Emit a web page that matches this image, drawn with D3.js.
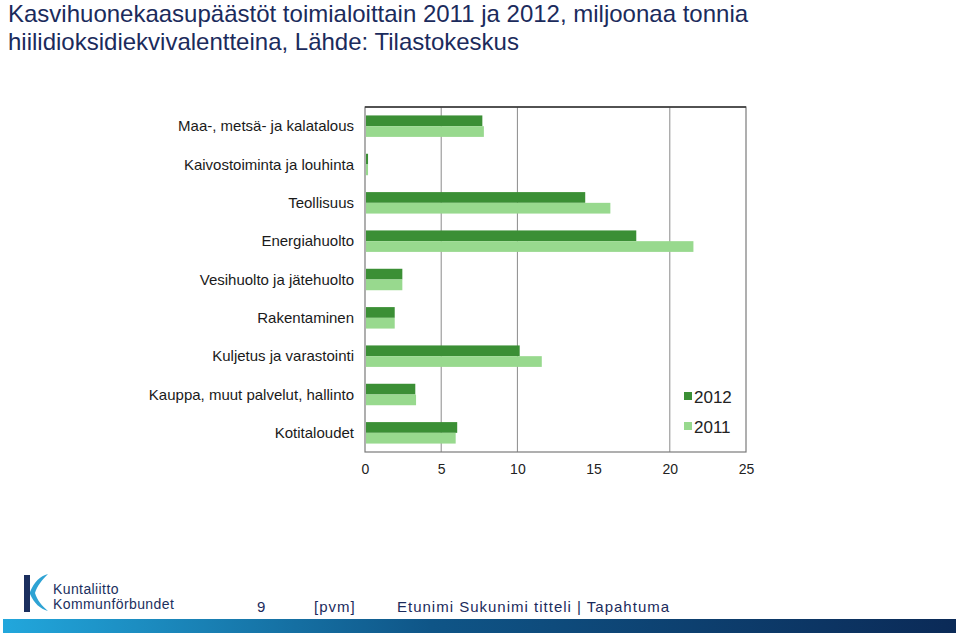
<!DOCTYPE html>
<html><head><meta charset="utf-8">
<script src="https://cdn.jsdelivr.net/npm/d3@7"></script>
<style>body{margin:0;background:#fff;}svg{display:block;font-family:"Liberation Sans",Arial,sans-serif;}</style>
</head><body>
<svg id="c" width="960" height="635"></svg>
<script>
const categories = ["Maa-, metsä- ja kalatalous","Kaivostoiminta ja louhinta","Teollisuus","Energiahuolto","Vesihuolto ja jätehuolto","Rakentaminen","Kuljetus ja varastointi","Kauppa, muut palvelut, hallinto","Kotitaloudet"];
const values2012 = [7.7, 0.2, 14.45, 17.8, 2.45, 1.95, 10.15, 3.3, 6.05];
const values2011 = [7.8, 0.2, 16.1, 21.55, 2.45, 1.95, 11.6, 3.35, 5.95];
const seriesNames = ["2012","2011"];
const xTicks = [0,5,10,15,20,25];
const gridTicks = [5,10,20];

const svg = d3.select("#c");
const C12 = "#3b8f35", C11 = "#98d98e";

// Title
const title = svg.append("text").attr("fill","#1b2b5c").attr("font-size",24);
title.append("tspan").attr("x",8).attr("y",22).text("Kasvihuonekaasupäästöt toimialoittain 2011 ja 2012, miljoonaa tonnia");
title.append("tspan").attr("x",8).attr("y",50).text("hiilidioksidiekvivalentteina, Lähde: Tilastokeskus");

const L = 365, R = 746, T = 107, B = 452;
const x = d3.scaleLinear().domain([0,25]).range([L,R]);
const y = d3.scaleBand().domain(categories).range([T,B]).paddingInner(0.44).paddingOuter(0.22);
const yInner = d3.scaleBand().domain(seriesNames).range([0,y.bandwidth()]);

// grid
svg.append("g").selectAll("line").data(gridTicks).join("line")
  .attr("x1",d=>x(d)).attr("x2",d=>x(d)).attr("y1",T).attr("y2",B)
  .attr("stroke","#8a8a8a").attr("stroke-width",1);
// frame
svg.append("rect").attr("x",L).attr("y",T).attr("width",R-L).attr("height",B-T)
  .attr("fill","none").attr("stroke","#7a7a7a").attr("stroke-width",1.2);
svg.append("line").attr("x1",L).attr("x2",R).attr("y1",T).attr("y2",T).attr("stroke","#333").attr("stroke-width",1.3);

// bars
const g = svg.append("g");
const rows = g.selectAll("g").data(categories).join("g").attr("transform",d=>`translate(0,${y(d)})`);
rows.append("rect").attr("x",x(0)+1).attr("y",yInner("2012")).attr("height",yInner.bandwidth())
  .attr("width",(d,i)=>x(values2012[i])-x(0)-1).attr("fill",C12);
rows.append("rect").attr("x",x(0)+1).attr("y",yInner("2011")).attr("height",yInner.bandwidth())
  .attr("width",(d,i)=>x(values2011[i])-x(0)-1).attr("fill",C11);

// category labels
svg.append("g").selectAll("text").data(categories).join("text")
  .attr("x",354).attr("y",d=>y(d)+y.bandwidth()/2+5)
  .attr("text-anchor","end").attr("font-size",15).attr("fill","#1a1a1a")
  .text(d=>d);

// x axis labels
const xa = svg.append("g").attr("transform",`translate(0,${B})`)
  .call(d3.axisBottom(x).tickValues(xTicks).tickSize(0).tickPadding(12).tickFormat(d3.format("d")));
xa.select(".domain").remove();
xa.selectAll("text").attr("font-size",14).attr("fill","#222").attr("font-family","Liberation Sans, Arial, sans-serif");

// legend
const lg = svg.append("g").attr("transform","translate(684,392)");
const lgItems = lg.selectAll("g").data(seriesNames).join("g").attr("transform",(d,i)=>`translate(0,${i*30})`);
lgItems.append("rect").attr("width",8).attr("height",8).attr("fill",(d,i)=>i===0?C12:C11);
lgItems.append("text").attr("x",10).attr("y",11).attr("font-size",17).attr("fill","#222").text(d=>d);

// footer logo
const logo = svg.append("g");
logo.append("rect").attr("x",24).attr("y",575).attr("width",6).attr("height",37).attr("fill","#1b2f5e");
logo.append("path").attr("d","M30,592 C34,582 40,576 48,574 C42,580 37,586 35,593 C37,600 42,606 48,611 C40,609 34,603 30,594 Z").attr("fill","#2ea3d4");
logo.append("text").attr("x",53).attr("y",594).attr("font-size",14).attr("fill","#1b2f5e").attr("letter-spacing",0.4).text("Kuntaliitto");
logo.append("text").attr("x",53).attr("y",609).attr("font-size",14).attr("fill","#1b2f5e").attr("letter-spacing",0.4).text("Kommunförbundet");

// footer text
const ft = svg.append("g").attr("font-size",15).attr("fill","#1b2b5c").attr("letter-spacing",1);
ft.append("text").attr("x",257).attr("y",612).text("9");
ft.append("text").attr("x",314).attr("y",612).text("[pvm]");
ft.append("text").attr("x",397).attr("y",612).text("Etunimi Sukunimi titteli | Tapahtuma");

// gradient bar
const defs = svg.append("defs");
const grad = defs.append("linearGradient").attr("id","fg");
grad.append("stop").attr("offset","0%").attr("stop-color","#22a7dc");
grad.append("stop").attr("offset","45%").attr("stop-color","#0f5587");
grad.append("stop").attr("offset","100%").attr("stop-color","#0b2a57");
svg.append("rect").attr("x",3).attr("y",619).attr("width",953).attr("height",14).attr("fill","url(#fg)");
</script>
</body></html>
